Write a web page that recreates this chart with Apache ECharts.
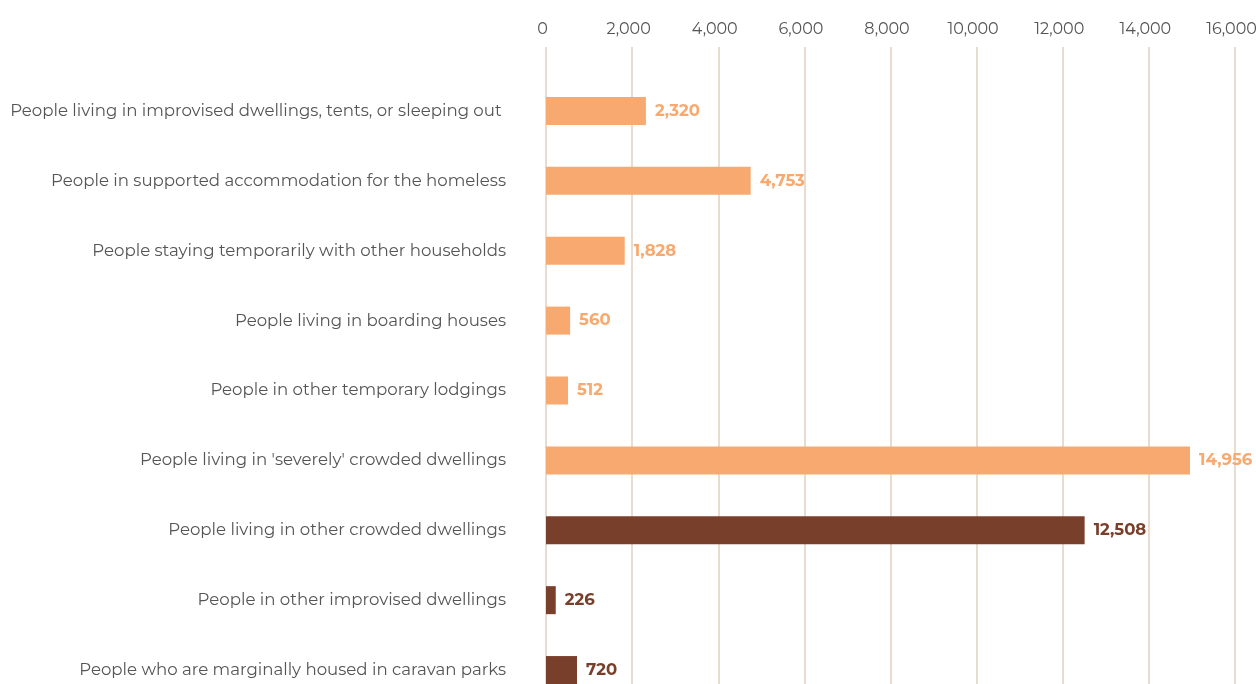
<!DOCTYPE html>
<html><head><meta charset="utf-8">
<script src="https://cdn.jsdelivr.net/npm/echarts@6/dist/echarts.min.js"></script>
<style>html,body{margin:0;padding:0;background:#fff;}#c{width:1256px;height:684px;}</style>
</head><body><div id="c"></div>
<script>
const categories = [
  "People living in improvised dwellings, tents, or sleeping out ",
  "People in supported accommodation for the homeless",
  "People staying temporarily with other households",
  "People living in boarding houses",
  "People in other temporary lodgings",
  "People living in 'severely' crowded dwellings",
  "People living in other crowded dwellings",
  "People in other improvised dwellings",
  "People who are marginally housed in caravan parks"
];
const values = [2320, 4753, 1828, 560, 512, 14956, 12508, 226, 720];
const groups = ["homeless","homeless","homeless","homeless","homeless","homeless","marginal","marginal","marginal"];
const groupColors = { homeless: "#F8A96F", marginal: "#783F2B" };

const FONT = "Montserrat, Inter, 'Open Sans', sans-serif";
const chart = echarts.init(document.getElementById('c'), null, {renderer:'canvas'});
chart.setOption({
  animation:false,
  backgroundColor:'#fff',
  grid:[
    {left:546, right:21, top:76, bottom:-21, outerBoundsMode:'none', containLabel:false},
    {left:546, right:21, top:47, bottom:-25, outerBoundsMode:'none', containLabel:false}
  ],
  xAxis:[
    {gridIndex:0, type:'value', min:0, max:16000, interval:2000, show:false},
    {gridIndex:1, type:'value', position:'top', min:0, max:16000, interval:2000,
     axisLine:{show:false}, axisTick:{show:false},
     axisLabel:{color:'#555', fontFamily:FONT, fontSize:16, margin:10, padding:[0,7,0,0],
       formatter:v=>v.toLocaleString('en-US')},
     splitLine:{show:true, lineStyle:{color:'#E8DCD0', width:2}}}
  ],
  yAxis:[
    {gridIndex:0, type:'category', inverse:true, data:categories,
     axisLine:{show:false}, axisTick:{show:false}, splitLine:{show:false},
     axisLabel:{color:'#555', fontFamily:FONT, fontSize:16.6, margin:40, padding:[4,0,0,0]}},
    {gridIndex:1, type:'value', show:false}
  ],
  series:[{
    type:'bar', xAxisIndex:0, yAxisIndex:0, barWidth:28,
    data: values.map((v,i)=>({value:v,
      itemStyle:{color:groupColors[groups[i]]},
      label:{color:groupColors[groups[i]]}})),
    label:{show:true, position:'right', distance:9, fontFamily:FONT, fontWeight:'bold', fontSize:16.5,
      formatter:p=>p.value.toLocaleString('en-US')}
  }]
});
</script></body></html>
